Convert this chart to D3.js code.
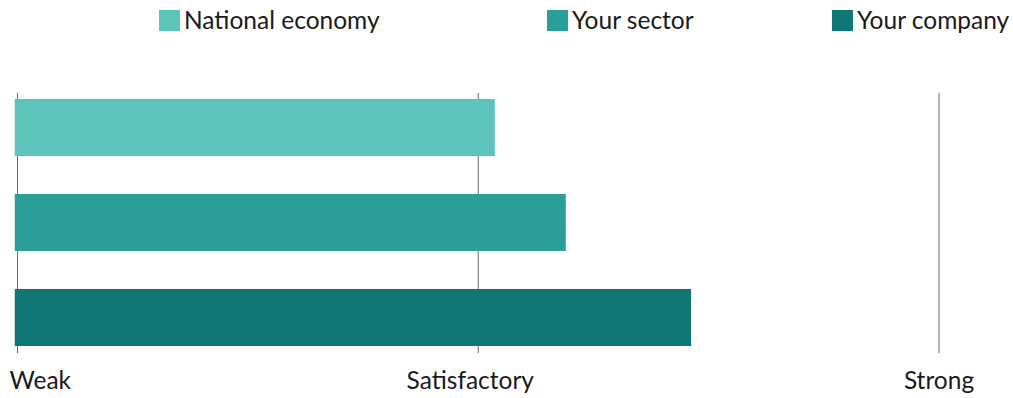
<!doctype html>
<html>
  <head>
    <script src="https://cdnjs.cloudflare.com/ajax/libs/d3/7.8.5/d3.min.js"></script>
    <style>
      body { margin: 0; background: #fff; }
      text { font-family: "Lato", "DejaVu Sans", sans-serif; fill: #1a1a1a; }
    </style>
  </head>
  <body>
    <svg width="1013" height="398"></svg>
    <script>
      // data
      var categories = ["National economy", "Your sector", "Your company"];
      var scores = [51.8, 59.5, 73.1];
      var colors = ["#5dc4bb", "#2a9e99", "#0f7775"];
      var tickValues = [0, 50, 100];
      var tickLabels = ["Weak", "Satisfactory", "Strong"];

      var svg = d3.select("svg");

      var x = d3.scaleLinear().domain([0, 100]).range([17.5, 939]);
      var y = d3.scaleBand().domain(categories).range([80, 365]).paddingInner(0.4).paddingOuter(0.2);

      // grid lines
      svg.append("g").selectAll("line").data(tickValues)
        .enter().append("line")
          .attr("x1", d => x(d)).attr("x2", d => x(d))
          .attr("y1", 93).attr("y2", 353)
          .attr("stroke", "#666").attr("stroke-width", 1);

      // bars
      svg.append("g").selectAll("rect").data(scores)
        .enter().append("rect")
          .attr("x", x(-0.3))
          .attr("y", (d, i) => y(categories[i]))
          .attr("width", d => x(d) - x(-0.3))
          .attr("height", y.bandwidth())
          .attr("fill", (d, i) => colors[i]);

      // axis labels
      svg.append("g").selectAll("text").data(tickValues)
        .enter().append("text")
          .attr("x", (d, i) => i === 0 ? x(d) - 8 : x(d) - (i === 1 ? 8 : 0))
          .attr("y", 389)
          .attr("text-anchor", (d, i) => i === 0 ? "start" : "middle")
          .style("font-size", "24.5px")
          .text((d, i) => tickLabels[i]);

      // legend
      var legendX = [159, 547, 832];
      var legend = svg.append("g").selectAll("g").data(categories)
        .enter().append("g")
          .attr("transform", (d, i) => "translate(" + legendX[i] + ",10)");
      legend.append("rect")
        .attr("width", 21).attr("height", 21)
        .attr("fill", (d, i) => colors[i]);
      legend.append("text")
        .attr("x", 25).attr("y", 18.5)
        .style("font-size", "24.5px")
        .text(d => d);
    </script>
  </body>
</html>
